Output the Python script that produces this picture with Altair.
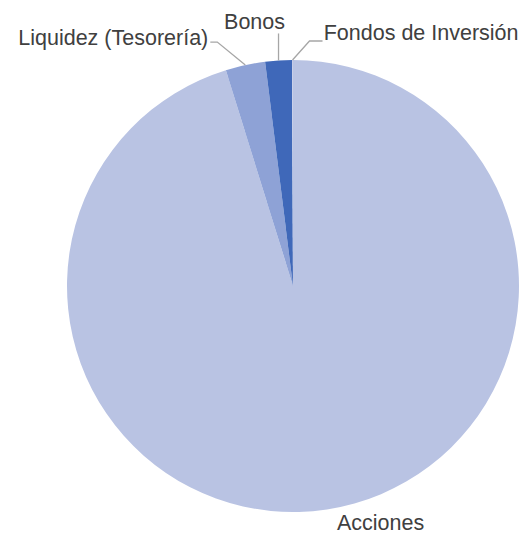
import math
import altair as alt
import pandas as pd

# ---- data ----
categories = ["Acciones", "Liquidez (Tesorería)", "Bonos", "Fondos de Inversión"]
values = [95.2, 2.83, 1.90, 0.07]
colors = ["#B9C3E3", "#8EA2D6", "#3F68B9", "#C5CCE8"]

# ---- layout (styling, not data) ----
CX, CY, R = 293, 286, 226
FONT = "Liberation Sans"
# label offsets from slice-edge midpoint: (dx, dy, align), leader polyline offsets
label_layout = {
    "Acciones": (10, 21, "left", []),
    "Liquidez (Tesorería)": (-37, -20, "right", [(0, 0), (-28, -23), (-35, -23)]),
    "Bonos": (-24, -31, "center", [(0, 0), (0, -27)]),
    "Fondos de Inversión": (226, -20, "right", [(0, 0), (17, -19), (30, -19)]),
}

pie_df = pd.DataFrame({"category": categories, "value": values, "idx": range(len(categories))})

total = sum(values)
label_rows, line_rows = [], []
cum = 0.0
for cat, v in zip(categories, values):
    mid = (cum + v / 2) / total * 2 * math.pi
    cum += v
    ex = CX + R * math.sin(mid)
    ey = CY - R * math.cos(mid)
    dx, dy, align, pts = label_layout[cat]
    label_rows.append({"category": cat, "px": ex + dx, "py": ey + dy, "align": align})
    for i, (ox, oy) in enumerate(pts):
        line_rows.append({"category": cat, "px": ex + ox, "py": ey + oy, "pt": i})

labels_df = pd.DataFrame(label_rows)
lines_df = pd.DataFrame(line_rows)

pie = alt.Chart(pie_df).mark_arc(outerRadius=R).encode(
    theta=alt.Theta("value:Q", stack=True),
    color=alt.Color("category:N", scale=alt.Scale(domain=categories, range=colors), legend=None),
    order=alt.Order("idx:Q"),
    x=alt.value(CX),
    y=alt.value(CY),
)

leaders = alt.Chart(lines_df).mark_line(color="#A6A6A6", strokeWidth=1.3).encode(
    x=alt.X("px:Q", scale=None, axis=None),
    y=alt.Y("py:Q", scale=None, axis=None),
    detail="category:N",
    order=alt.Order("pt:Q"),
)

def text_layer(align):
    return alt.Chart(labels_df[labels_df["align"] == align]).mark_text(
        font=FONT, fontSize=21.5, color="#404040", align=align, baseline="alphabetic"
    ).encode(
        x=alt.X("px:Q", scale=None, axis=None),
        y=alt.Y("py:Q", scale=None, axis=None),
        text="category:N",
    )

chart = alt.layer(
    pie, leaders, text_layer("left"), text_layer("right"), text_layer("center")
).properties(
    width=523, height=534, padding=0, autosize=alt.AutoSizeParams(type="none")
).configure_view(stroke=None)

chart.save("out.html", embed_options={"renderer": "svg", "actions": False})
